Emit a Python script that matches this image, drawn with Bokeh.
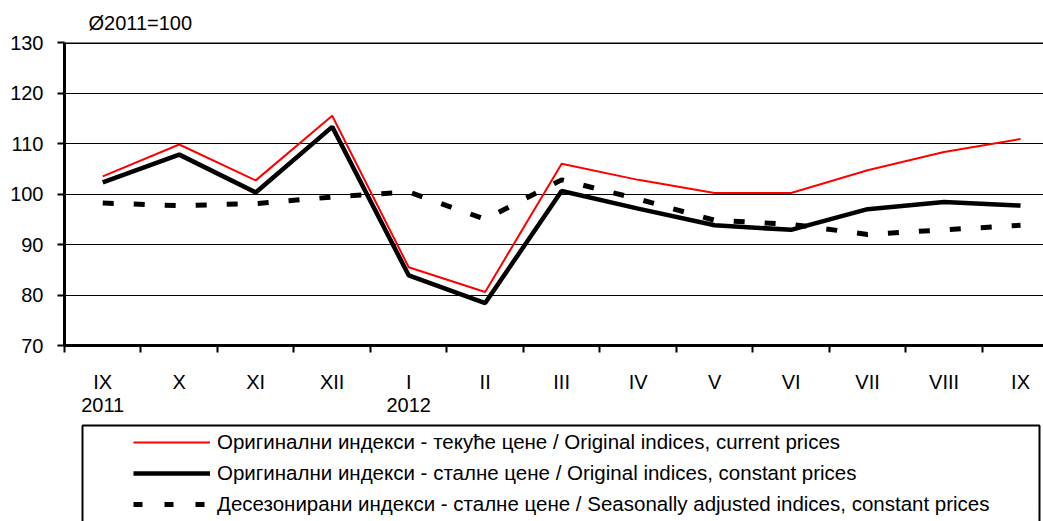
from bokeh.plotting import figure
from bokeh.models import (Range1d, FixedTicker, LinearAxis, Span, Legend, LegendItem, Title)
from bokeh.layouts import column
from bokeh.embed import file_html
from bokeh.resources import INLINE

months = ["IX", "X", "XI", "XII", "I", "II", "III", "IV", "V", "VI", "VII", "VIII", "IX"]
years = {0: "2011", 4: "2012"}
current_prices = [103.5, 109.8, 102.7, 115.5, 85.5, 80.6, 106.0, 102.8, 100.2, 100.2, 104.7, 108.3, 110.9]
constant_prices = [102.3, 107.8, 100.3, 113.3, 83.9, 78.4, 100.6, 97.1, 93.8, 92.9, 97.0, 98.4, 97.7]
seasonally_adj = [98.2, 97.7, 98.1, 99.4, 100.4, 95.0, 102.8, 99.0, 94.8, 94.0, 92.0, 92.9, 93.8]
labels = [
    "Оригинални индекси - текуће цене / Original indices, current prices",
    "Оригинални индекси - сталне цене / Original indices, constant prices",
    "Десезонирани индекси - сталне цене / Seasonally adjusted indices, constant prices",
]
y_ticks = [70, 80, 90, 100, 110, 120, 130]

FONT = "Liberation Sans"
NAN = float("nan")
x = list(range(len(months)))

p = figure(width=1043, height=420, output_backend="svg", toolbar_location=None,
           x_range=Range1d(-0.5, 12.3), y_range=Range1d(70, 130),
           min_border_left=64, min_border_right=0, min_border_top=42, min_border_bottom=75,
           x_axis_location=None, y_axis_location=None)
p.outline_line_color = None
p.background_fill_color = "white"
p.border_fill_color = "white"

p.title = Title(text="Ø2011=100", text_font=FONT, text_font_size="20px", text_font_style="normal",
                text_color="black", align="left", offset=24, standoff=18)

# y axis
yax = LinearAxis(ticker=FixedTicker(ticks=y_ticks))
yax.axis_line_width = 3
yax.axis_line_color = "black"
yax.major_tick_out = 7
yax.major_tick_in = 0
yax.major_tick_line_width = 2
yax.minor_tick_line_color = None
yax.major_label_standoff = 14
yax.major_label_text_font = FONT
yax.major_label_text_font_size = "20px"
yax.major_label_text_color = "black"
p.add_layout(yax, "left")

# x axis (ticks at boundaries, labels at centres)
boundaries = [i - 0.5 for i in range(len(months))]
xax = LinearAxis(ticker=FixedTicker(ticks=x, minor_ticks=boundaries))
xax.major_label_overrides = {i: m for i, m in enumerate(months)}
xax.axis_line_width = 3
xax.axis_line_color = "black"
xax.major_tick_line_color = None
xax.minor_tick_out = 7
xax.minor_tick_in = 0
xax.minor_tick_line_width = 2
xax.minor_tick_line_color = "black"
xax.major_label_standoff = 18
xax.major_label_text_font = FONT
xax.major_label_text_font_size = "20px"
xax.major_label_text_color = "black"
p.add_layout(xax, "below")

yrax = LinearAxis(ticker=FixedTicker(ticks=list(years.keys())))
yrax.major_label_overrides = years
yrax.axis_line_color = None
yrax.major_tick_line_color = None
yrax.minor_tick_line_color = None
yrax.major_label_standoff = -4
yrax.major_label_text_font = FONT
yrax.major_label_text_font_size = "20px"
yrax.major_label_text_color = "black"
p.add_layout(yrax, "below")

p.xgrid.grid_line_color = None
p.ygrid.ticker = FixedTicker(ticks=y_ticks[1:-1])
p.ygrid.grid_line_color = "black"
p.ygrid.grid_line_width = 1
p.add_layout(Span(location=130, dimension="width", line_color="black", line_width=3))

p.line(x, seasonally_adj, line_color="black", line_width=5, line_dash="11 20")
p.line(x, constant_prices, line_color="black", line_width=4.5)
p.line(x, current_prices, line_color="red", line_width=2)

# legend panel (frame shares the chart's horizontal extent; ranges in panel pixels)
q = figure(width=1043, height=101, output_backend="svg", toolbar_location=None,
           x_range=Range1d(64, 1043), y_range=Range1d(521, 420),
           min_border_left=64, min_border_right=0, min_border_top=0, min_border_bottom=0,
           x_axis_location=None, y_axis_location=None)
q.outline_line_color = None
q.background_fill_color = "white"
q.border_fill_color = "white"
q.xgrid.visible = False
q.ygrid.visible = False
# legend frame (its bottom edge falls below the page)
q.line([82, 82, 1039, 1039], [540, 425, 425, 540], line_color="black", line_width=2)

r1 = q.line([NAN], [NAN], line_color="red", line_width=2)
r2 = q.line([NAN], [NAN], line_color="black", line_width=4.5)
r3 = q.line([NAN], [NAN], line_color="black", line_width=5, line_dash="9 22")
leg = Legend(items=[LegendItem(label=labels[0], renderers=[r1]),
                    LegendItem(label=labels[1], renderers=[r2]),
                    LegendItem(label=labels[2], renderers=[r3])],
             location=(69, 5), padding=0, margin=0, spacing=7,
             glyph_width=77, glyph_height=20, label_height=20, label_standoff=7,
             label_text_font=FONT, label_text_font_size="20.5px", label_text_color="black",
             border_line_color=None, background_fill_alpha=0)
q.add_layout(leg)

layout = column(p, q, spacing=0)
open("out.html", "w").write(file_html(layout, INLINE))
